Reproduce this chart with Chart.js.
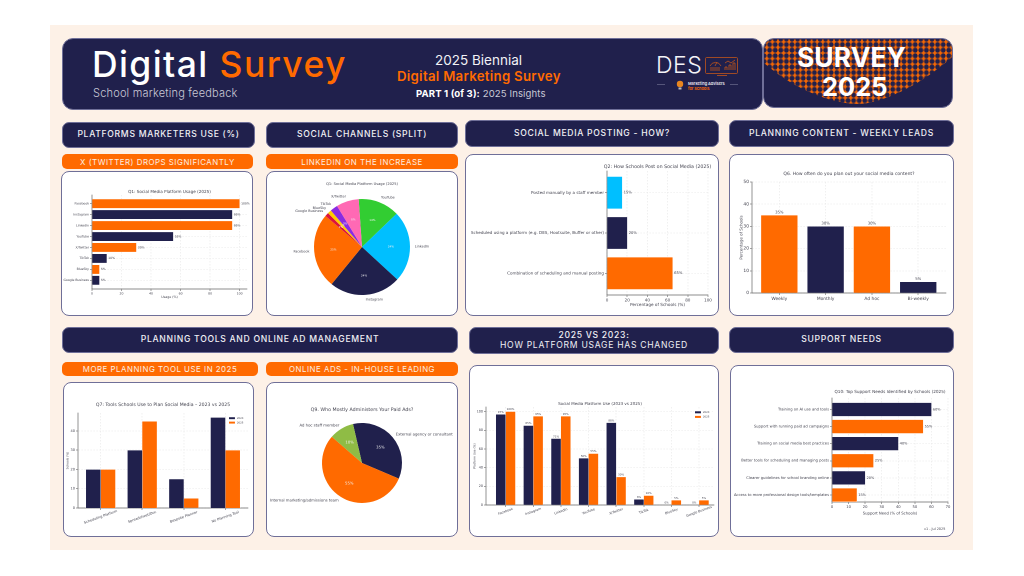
<!DOCTYPE html>
<html>
<head>
<meta charset="utf-8">
<title>Digital Survey 2025</title>
<script src="https://cdn.jsdelivr.net/npm/chart.js@4"></script>
<style>
    html, body { margin: 0; padding: 0; background: #fff; }
    body { width: 1024px; height: 576px; position: relative; overflow: hidden; font-family: Inter, "Open Sans", sans-serif; }
    .abs { position: absolute; white-space: nowrap; }
    .navy { background: #20204c; border: 1px solid #6f6f98; box-sizing: border-box; border-radius: 7px; }
    .head { color: #f0f0f5; font-size: 8.6px; font-weight: 500; letter-spacing: .7px; display: flex; align-items: center; justify-content: center; text-align: center; line-height: 1.1; }
    .sub { background: #ff6a00; border-radius: 5px; color: #fdeee0; font-size: 7.9px; font-weight: 400; letter-spacing: .5px; display: flex; align-items: center; justify-content: center; }
    .card { background: #fff; border: 1px solid #6f6f98; box-sizing: border-box; border-radius: 8px; }
    canvas { position: absolute; }
    svg { display: block; }
</style>
</head>
<body>
<script>
const NAVY = "#20204c";
const ORANGE = "#ff6a00";
const INK = "#444450";

// Q1
const platforms = ["Facebook", "Instagram", "LinkedIn", "YouTube", "X/Twitter", "TikTok", "BlueSky", "Google Business"];
const usage2025 = [100, 95, 95, 55, 30, 10, 5, 5];
const usage2023 = [97, 85, 71, 50, 88, 6, 0, 0];
// Q1 split, clockwise from the top of the pie
const splitLabels = ["YouTube", "LinkedIn", "Instagram", "Facebook", "Google Business", "BlueSky", "TikTok", "X/Twitter"];
const splitValues = [55, 95, 95, 100, 5, 5, 10, 30];
const splitColors = ["#32cd32", "#00bfff", NAVY, ORANGE, "#dc143c", "#ffcc00", "#8a2be2", "#ff69b4"];
// Q2
const postingLabels = ["Posted manually by a staff member", "Scheduled using a platform (e.g. DES, Hootsuite, Buffer or other)", "Combination of scheduling and manual posting"];
const postingValues = [15, 20, 65];
const postingColors = ["#00bfff", NAVY, ORANGE];
// Q6
const planLabels = ["Weekly", "Monthly", "Ad hoc", "Bi-weekly"];
const planValues = [35, 30, 30, 5];
// Q7
const toolLabels = ["Scheduling Platform", "Spreadsheet/Doc", "Bespoke Planner", "No Planning Tool"];
const tools2023 = [20, 30, 15, 47];
const tools2025 = [20, 45, 5, 30];
// Q9
const adsLabels = ["External agency or consultant", "Internal marketing/admissions team", "Ad hoc staff member"];
const adsValues = [35, 55, 10];
const adsColors = [NAVY, ORANGE, "#8fbc45"];
// Q10
const supportLabels = ["Training on AI use and tools", "Support with running paid ad campaigns", "Training on social media best practices", "Better tools for scheduling and managing posts", "Clearer guidelines for school branding online", "Access to more professional design tools/templates"];
const supportValues = [60, 55, 40, 25, 20, 15];

function addBox(cls, x, y, w, h, html, css) {
    const el = document.createElement("div");
    el.className = "abs " + cls;
    el.style.cssText = `left:${x}px;top:${y}px;width:${w}px;height:${h}px;${css || ""}`;
    el.innerHTML = html || "";
    document.body.appendChild(el);
    return el;
}

function addText(html, x, y, css) {
    return addBox("", x, y, 0, 0, `<span style="position:absolute;transform:translateY(-50%);${css}">${html}</span>`);
}

function addCard(x, y, w, h) {
    addBox("card", x, y, w, h);
    const canvas = document.createElement("canvas");
    canvas.style.cssText = `left:${x}px;top:${y}px;width:${w}px;height:${h}px;`;
    canvas.width = w;
    canvas.height = h;
    document.body.appendChild(canvas);
    return canvas.getContext("2d");
}

function alternating(count) {
    const colors = [];
    for (let i = 0; i < count; i++) colors.push(i % 2 === 0 ? ORANGE : NAVY);
    return colors;
}

// the built-in title squeezes text wider than the plot, the original ones overhang it
function titlePlugin(text, size, y) {
    return {
        id: "overhangTitle",
        afterDraw(chart) {
            const ctx = chart.ctx;
            ctx.save();
            ctx.font = `${size}px "DejaVu Sans"`;
            ctx.fillStyle = INK;
            ctx.textAlign = "center";
            ctx.textBaseline = "middle";
            ctx.fillText(text, (chart.chartArea.left + chart.chartArea.right) / 2, y);
            ctx.restore();
        },
    };
}

function valueLabelsPlugin(size, horizontal) {
    return {
        id: "valueLabels",
        afterDatasetsDraw(chart) {
            const ctx = chart.ctx;
            ctx.save();
            ctx.font = `${size}px "DejaVu Sans"`;
            ctx.fillStyle = INK;
            chart.data.datasets.forEach((ds, d) => {
                chart.getDatasetMeta(d).data.forEach((bar, i) => {
                    const value = horizontal ? ds.data[i].x : ds.data[i].y;
                    ctx.textAlign = horizontal ? "left" : "center";
                    ctx.textBaseline = horizontal ? "middle" : "bottom";
                    if (horizontal) ctx.fillText(value + "%", bar.x + 1.5, bar.y);
                    else ctx.fillText(value + "%", bar.x, bar.y - 0.8);
                });
            });
            ctx.restore();
        },
    };
}

function slantedTicksPlugin(labels, size, angle, gap) {
    return {
        id: "slantedTicks",
        afterDraw(chart) {
            const ctx = chart.ctx;
            const scale = chart.scales.x;
            ctx.save();
            ctx.font = `${size}px "DejaVu Sans"`;
            ctx.fillStyle = INK;
            ctx.textAlign = "center";
            ctx.textBaseline = "middle";
            labels.forEach((label, i) => {
                ctx.save();
                ctx.translate(scale.getPixelForValue(i), chart.chartArea.bottom + gap);
                ctx.rotate(-angle * Math.PI / 180);
                ctx.fillText(label, 0, 0);
                ctx.restore();
            });
            ctx.restore();
        },
    };
}

function legendPlugin(names, size, dx, dy, w, rowH) {
    return {
        id: "cornerLegend",
        afterDraw(chart) {
            const ctx = chart.ctx;
            const left = chart.chartArea.right - dx - w;
            const top = chart.chartArea.top + dy;
            ctx.save();
            ctx.fillStyle = "rgba(255,255,255,0.85)";
            ctx.fillRect(left, top, w, rowH * names.length + 2);
            ctx.font = `${size}px "DejaVu Sans"`;
            ctx.textBaseline = "middle";
            names.forEach((name, i) => {
                const y = top + 1 + rowH * (i + 0.5);
                ctx.fillStyle = chart.data.datasets[i].backgroundColor;
                ctx.fillRect(left + 1, y - rowH * 0.22, w * 0.33, rowH * 0.44);
                ctx.fillStyle = INK;
                ctx.fillText(name, left + 2 + w * 0.38, y);
            });
            ctx.restore();
        },
    };
}

function pieLabelsPlugin(names, size, pctSize) {
    return {
        id: "pieLabels",
        afterDatasetsDraw(chart) {
            const ctx = chart.ctx;
            const data = chart.data.datasets[0].data;
            const total = data.reduce((a, b) => a + b, 0);
            ctx.save();
            ctx.textBaseline = "middle";
            chart.getDatasetMeta(0).data.forEach((arc, i) => {
                const mid = (arc.startAngle + arc.endAngle) / 2;
                const r = arc.outerRadius;
                ctx.font = `${size}px "DejaVu Sans"`;
                ctx.fillStyle = INK;
                ctx.textAlign = Math.cos(mid) > 0 ? "left" : "right";
                ctx.fillText(names[i], arc.x + Math.cos(mid) * r * 1.1, arc.y + Math.sin(mid) * r * 1.1);
                ctx.font = `${pctSize}px "DejaVu Sans"`;
                ctx.fillStyle = "#f4f4f4";
                ctx.textAlign = "center";
                ctx.fillText(Math.round(data[i] / total * 100) + "%", arc.x + Math.cos(mid) * r * 0.6, arc.y + Math.sin(mid) * r * 0.6);
            });
            ctx.restore();
        },
    };
}

function barChart(cfg) {
    const ctx = addCard(cfg.card[0], cfg.card[1], cfg.card[2], cfg.card[3]);
    const cardRight = cfg.card[0] + cfg.card[2];
    const cardBottom = cfg.card[1] + cfg.card[3];
    const h = cfg.horizontal;

    const tickFont = { family: "DejaVu Sans", size: cfg.tickSize };
    const axisGrid = { color: "#e6e6e6", lineWidth: 0.6, tickLength: 2, tickColor: "#666", drawTicks: true, offset: false };
    const border = { color: "#666", width: 0.7, dash: [1.5, 1.5] };
    const axisTitle = (text) => ({ display: !!text, text: text, color: INK, padding: 0, font: { family: "DejaVu Sans", size: cfg.axisTitleSize } });

    const valueTicks = [];
    for (let v = 0; v <= cfg.valueMax; v += cfg.step) valueTicks.push({ value: v });

    // numeric index axis so the margins either side of the bars can be set like the original
    const indexScale = {
        type: "linear",
        bounds: "data",
        offset: false,
        min: cfg.range[0],
        max: cfg.range[1],
        reverse: !!h,
        grid: axisGrid,
        border: border,
        afterBuildTicks: (scale) => { scale.ticks = cfg.labels.map((label, i) => ({ value: i })); },
        ticks: {
            autoSkip: false,
            maxRotation: 0,
            padding: 1,
            color: INK,
            font: tickFont,
            display: !cfg.slant,
            callback: (v) => cfg.labels[v],
        },
    };
    const valueScale = {
        type: "linear",
        bounds: "data",
        min: 0,
        max: cfg.valueMax,
        grid: axisGrid,
        border: border,
        title: axisTitle(cfg.valueTitle),
        afterBuildTicks: (scale) => { scale.ticks = valueTicks.slice(); },
        ticks: { autoSkip: false, maxRotation: 0, padding: 1, color: INK, font: tickFont },
    };
    const xAxis = h ? valueScale : indexScale;
    const yAxis = h ? indexScale : valueScale;
    xAxis.afterFit = (scale) => { scale.height = cfg.xH; };
    yAxis.afterFit = (scale) => { scale.width = cfg.yW; };

    const plugins = [titlePlugin(cfg.title, cfg.titleSize, cfg.titleY - cfg.card[1])];
    if (cfg.valueLabelSize) plugins.push(valueLabelsPlugin(cfg.valueLabelSize, h));
    if (cfg.slant) plugins.push(slantedTicksPlugin(cfg.labels, cfg.tickSize, cfg.slant, cfg.slantGap));
    if (cfg.legend) plugins.push(legendPlugin(cfg.legend, cfg.legendSize, 2, 2, cfg.legendW, cfg.legendRow));

    return new Chart(ctx, {
        type: "bar",
        data: {
            datasets: cfg.series.map((s) => ({
                data: s.values.map((v, i) => (h ? { x: v, y: i } : { x: i, y: v })),
                backgroundColor: s.color,
                borderColor: "#ffffff",
                borderWidth: 0.4,
                barThickness: cfg.barPx,
            })),
        },
        options: {
            indexAxis: h ? "y" : "x",
            responsive: false,
            animation: false,
            devicePixelRatio: 2,
            layout: {
                padding: {
                    left: cfg.plot[0] - cfg.card[0] - cfg.yW,
                    top: cfg.plot[1] - cfg.card[1],
                    right: cardRight - cfg.plot[2],
                    bottom: cardBottom - cfg.plot[3] - cfg.xH,
                },
            },
            scales: { x: xAxis, y: yAxis },
            plugins: {
                legend: { display: false },
                tooltip: { enabled: false },
                title: { display: false },
            },
        },
        plugins: plugins,
    });
}

function pieChart(cfg) {
    const ctx = addCard(cfg.card[0], cfg.card[1], cfg.card[2], cfg.card[3]);
    return new Chart(ctx, {
        type: "pie",
        data: {
            labels: cfg.labels,
            datasets: [{ data: cfg.values, backgroundColor: cfg.colors, borderWidth: 0 }],
        },
        options: {
            responsive: false,
            animation: false,
            devicePixelRatio: 2,
            rotation: cfg.rotation,
            layout: {
                padding: {
                    left: cfg.cx - cfg.r - cfg.card[0],
                    right: cfg.card[0] + cfg.card[2] - cfg.cx - cfg.r,
                    top: cfg.cy - cfg.r - cfg.card[1],
                    bottom: cfg.card[1] + cfg.card[3] - cfg.cy - cfg.r,
                },
            },
            plugins: {
                legend: { display: false },
                tooltip: { enabled: false },
                title: { display: false },
            },
        },
        plugins: [
            titlePlugin(cfg.title, cfg.titleSize, cfg.titleY - cfg.card[1]),
            pieLabelsPlugin(cfg.labels, cfg.labelSize, cfg.pctSize),
        ],
    });
}

// page furniture
addBox("", 50, 25, 923, 525, "", "background:#fdf1e7;");
addBox("navy", 62, 38, 701, 72, "", "border-radius:11px;");
addBox("navy", 763, 38, 190, 70, `
<svg width="188" height="68" style="position:absolute;left:0;top:0;">
  <defs><pattern id="plus" width="5.6" height="5.6" patternUnits="userSpaceOnUse">
    <path d="M2.8 .5V5.1M.5 2.8H5.1" stroke="${ORANGE}" stroke-width="1.6" fill="none"/>
  </pattern></defs>
  <path d="M0 0H188V18C150 52 112 65 94 65C70 65 32 52 0 24Z" fill="url(#plus)"/>
</svg>`, "border-radius:11px;overflow:hidden;");
addText("SURVEY", 797, 57, "color:#fff;font-size:26.5px;font-weight:700;");
addText("2025", 822, 86, "color:#fff;font-size:25.5px;font-weight:700;");

addText(`<span style="color:#fff">Digital</span> <span style="color:${ORANGE}">Survey</span>`, 92, 64, "font-size:35.5px;font-weight:500;letter-spacing:1.4px;");
addText("School marketing feedback", 93, 93, "color:#c9c9d6;font-size:11px;font-weight:300;letter-spacing:.2px;");
addText("2025 Biennial", 435, 59.5, "color:#f2f2f6;font-size:13.5px;font-weight:400;");
addText("Digital Marketing Survey", 397, 75.5, `color:${ORANGE};font-size:13.2px;font-weight:600;letter-spacing:.3px;`);
addText(`<b style="color:#fff;font-weight:700">PART 1 (of 3):</b> 2025 Insights`, 416, 93, "color:#c9c9d6;font-size:9.6px;font-weight:400;letter-spacing:.1px;");

// DES logo
addText("DES", 656, 65, "color:#f4f4f8;font-size:23px;font-weight:300;letter-spacing:.5px;");
addBox("", 705, 57, 34, 20, `
<svg width="34" height="20" fill="none" stroke="#c2551a" stroke-width=".8">
  <rect x=".5" y=".5" width="32" height="16" rx="1"/>
  <path d="M5 9a6 6 0 0 1 11 0M10 9l2-4M5 11h10M5 13h10M20 13v-3h2v3M24 13v-5h2v5M28 13v-7h2v7M20 6l3-2 3 2 4-3"/>
  <path d="M12 18.5h10"/>
</svg>`);
addBox("", 657, 84, 8, 1, "", "background:#55557a;");
addBox("", 730, 84, 8, 1, "", "background:#55557a;");
addBox("", 674, 79, 12, 12, `<svg width="12" height="12"><circle cx="6" cy="5" r="3.2" fill="#e8861f"/><rect x="4.5" y="8.5" width="3" height="2" fill="#bbb"/></svg>`);
addText("Marketing Advisers", 688, 82.5, "color:#e8e8f0;font-size:3.9px;font-weight:600;");
addText("for Schools", 688, 87.5, `color:${ORANGE};font-size:3.9px;font-weight:600;`);

// section headers
addBox("navy head", 62, 122, 193, 26, "PLATFORMS MARKETERS USE (%)");
addBox("navy head", 266, 122, 192, 26, "SOCIAL CHANNELS (SPLIT)");
addBox("navy head", 465, 120, 254, 27, "SOCIAL MEDIA POSTING - HOW?");
addBox("navy head", 729, 120, 225, 27, "PLANNING CONTENT - WEEKLY LEADS");
addBox("navy head", 62, 327, 396, 26, "PLANNING TOOLS AND ONLINE AD MANAGEMENT");
addBox("navy head", 469, 327, 250, 27, `<span>2025 VS 2023:<br><span style="font-weight:400">HOW PLATFORM USAGE HAS CHANGED</span></span>`);
addBox("navy head", 729, 327, 225, 26, "SUPPORT NEEDS");
addBox("sub", 62, 154, 191, 15, "X (TWITTER) DROPS SIGNIFICANTLY");
addBox("sub", 266, 154, 192, 15, "LINKEDIN ON THE INCREASE");
addBox("sub", 62, 362, 196, 14, "MORE PLANNING TOOL USE IN 2025");
addBox("sub", 266, 362, 192, 14, "ONLINE ADS - IN-HOUSE LEADING");

Chart.defaults.font.family = "DejaVu Sans";

barChart({
    card: [61, 171, 192, 145], plot: [92, 195, 247, 289], yW: 29, xH: 10,
    horizontal: true, labels: platforms, range: [-0.79, 7.79], barPx: 9,
    series: [{ values: usage2025, color: alternating(platforms.length) }],
    valueMax: 105, step: 20, valueTitle: "Usage (%)", axisTitleSize: 3.2,
    title: "Q1: Social Media Platform Usage (2025)", titleSize: 4.15, titleY: 192,
    tickSize: 3.1, valueLabelSize: 3,
});

pieChart({
    card: [266, 171, 192, 145], cx: 362, cy: 247, r: 48, rotation: -4,
    labels: splitLabels, values: splitValues, colors: splitColors,
    title: "Q1: Social Media Platform Usage (2025)", titleSize: 3.6, titleY: 184,
    labelSize: 3.4, pctSize: 2.8,
});

barChart({
    card: [465, 154, 254, 162], plot: [607, 171, 708, 295], yW: 140, xH: 12.5,
    horizontal: true, labels: postingLabels, range: [-0.54, 2.54], barPx: 32,
    series: [{ values: postingValues, color: postingColors }],
    valueMax: 100, step: 20, valueTitle: "Percentage of Schools (%)", axisTitleSize: 4.2,
    title: "Q2: How Schools Post on Social Media (2025)", titleSize: 4.75, titleY: 167,
    tickSize: 4.1, valueLabelSize: 3.7,
});

barChart({
    card: [729, 154, 225, 162], plot: [752, 182, 946, 293], yW: 13, xH: 12,
    horizontal: false, labels: planLabels, range: [-0.59, 3.6], barPx: 36.5,
    series: [{ values: planValues, color: alternating(planLabels.length) }],
    valueMax: 50, step: 10, valueTitle: "Percentage of Schools", axisTitleSize: 4,
    title: "Q6. How often do you plan out your social media content?", titleSize: 4.5, titleY: 174,
    tickSize: 4.4, valueLabelSize: 3.8,
});

barChart({
    card: [63, 382, 191, 155], plot: [78, 413, 248, 508], yW: 12, xH: 12,
    horizontal: false, labels: toolLabels, range: [-0.545, 3.545], barPx: 14.7,
    series: [{ values: tools2023, color: NAVY }, { values: tools2025, color: ORANGE }],
    valueMax: 49.35, step: 10, valueTitle: "Schools (%)", axisTitleSize: 3,
    title: "Q7: Tools Schools Use to Plan Social Media \u2013 2023 vs 2025", titleSize: 4.6, titleY: 405,
    tickSize: 3.5, slant: 20, slantGap: 9,
    legend: ["2023", "2025"], legendSize: 2.6, legendW: 18, legendRow: 4.4,
});

pieChart({
    card: [266, 382, 192, 155], cx: 362, cy: 463, r: 40, rotation: -13,
    labels: adsLabels, values: adsValues, colors: adsColors,
    title: "Q9. Who Mostly Administers Your Paid Ads?", titleSize: 4.75, titleY: 410,
    labelSize: 3.8, pctSize: 3.8,
});

barChart({
    card: [469, 365, 250, 172], plot: [486, 407, 714, 505], yW: 13, xH: 14,
    horizontal: false, labels: platforms, range: [-0.71, 7.54], barPx: 9.7,
    series: [{ values: usage2023, color: NAVY }, { values: usage2025, color: ORANGE }],
    valueMax: 105, step: 20, valueTitle: "Platform Use (%)", axisTitleSize: 3,
    title: "Social Media Platform Use (2023 vs 2025)", titleSize: 4, titleY: 404,
    tickSize: 3.3, slant: 20, slantGap: 6.5, valueLabelSize: 2.7,
    legend: ["2023", "2025"], legendSize: 2.6, legendW: 18, legendRow: 4.6,
});

barChart({
    card: [730, 365, 224, 172], plot: [832, 398, 948, 502], yW: 100, xH: 14,
    horizontal: true, labels: supportLabels, range: [-0.67, 5.41], barPx: 13.4,
    series: [{ values: supportValues, color: [NAVY, ORANGE, NAVY, ORANGE, NAVY, ORANGE] }],
    valueMax: 70, step: 10, valueTitle: "Support Need (% of Schools)", axisTitleSize: 3.8,
    title: "Q10: Top Support Needs Identified by Schools (2025)", titleSize: 4.2, titleY: 392,
    tickSize: 3.7, valueLabelSize: 3.4,
});

addText("v1 - Jul 2025", 924, 529, `color:${INK};font-size:3.4px;font-family:'DejaVu Sans';`);
</script>
</body>
</html>
